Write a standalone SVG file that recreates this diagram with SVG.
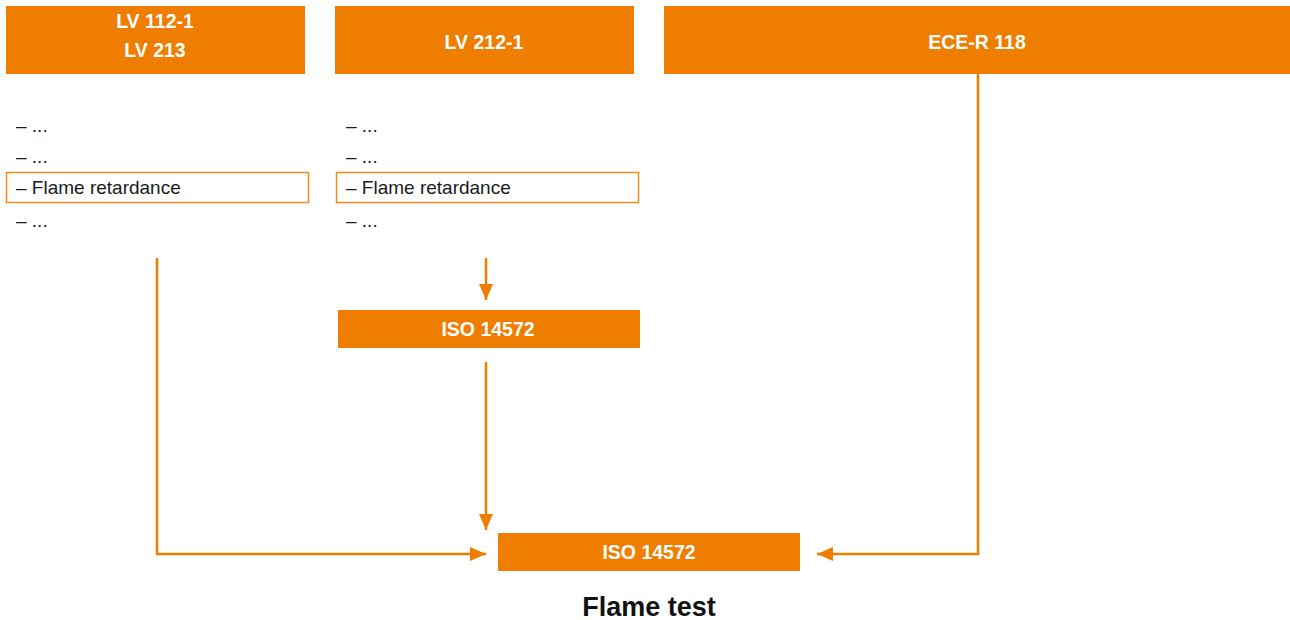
<svg xmlns="http://www.w3.org/2000/svg" width="1290" height="620" viewBox="0 0 1290 620">
<style>
.box{fill:#EF7D00}
.hd{font-family:"Liberation Sans",Arial,sans-serif;font-weight:bold;font-size:19.5px;fill:#fff;text-anchor:middle}
.li{font-family:"Liberation Sans",Arial,sans-serif;font-size:19px;fill:#1a1a1a}
.hl{fill:#fff;stroke:#F08A1E;stroke-width:1.5}
.ln{fill:none;stroke:#EF7D00;stroke-width:2.5}
.ttl{font-family:"Liberation Sans",Arial,sans-serif;font-weight:bold;font-size:27px;fill:#111;text-anchor:middle}
</style>
<defs>
<marker id="arr" viewBox="0 0 16 14" refX="16" refY="7" markerWidth="16" markerHeight="14" markerUnits="userSpaceOnUse" orient="auto">
<path d="M0,0 L16,7 L0,14 z" fill="#EF7D00"/>
</marker>
</defs>
<g id="node-lv112">
<rect class="box" x="6" y="6" width="299" height="68"/>
<text class="hd" x="155" y="28">LV 112-1</text>
<text class="hd" x="155" y="57">LV 213</text>
</g>
<g id="node-lv212">
<rect class="box" x="335" y="6" width="299" height="68"/>
<text class="hd" x="484" y="49">LV 212-1</text>
</g>
<g id="node-ece">
<rect class="box" x="664" y="6" width="626" height="68"/>
<text class="hd" x="977" y="49">ECE-R 118</text>
</g>
<g id="list-1">
<text class="li" x="16" y="132">– ...</text>
<text class="li" x="16" y="163">– ...</text>
<rect class="hl" x="6.5" y="172.5" width="302" height="30"/>
<text class="li" x="16" y="194">– Flame retardance</text>
<text class="li" x="16" y="227">– ...</text>
</g>
<g id="list-2">
<text class="li" x="346" y="132">– ...</text>
<text class="li" x="346" y="163">– ...</text>
<rect class="hl" x="336.5" y="172.5" width="302" height="30"/>
<text class="li" x="346" y="194">– Flame retardance</text>
<text class="li" x="346" y="227">– ...</text>
</g>
<g id="node-iso-mid">
<rect class="box" x="338" y="310" width="302" height="38"/>
<text class="hd" x="488" y="336">ISO 14572</text>
</g>
<g id="node-iso-bottom">
<rect class="box" x="498" y="533" width="302" height="38"/>
<text class="hd" x="649" y="559">ISO 14572</text>
</g>
<g id="connectors">
<path class="ln" d="M486,258 V300" marker-end="url(#arr)"/>
<path class="ln" d="M486,362 V530" marker-end="url(#arr)"/>
<path class="ln" d="M157,258 V554 H486" marker-end="url(#arr)"/>
<path class="ln" d="M978,74 V554 H817" marker-end="url(#arr)"/>
</g>
<text class="ttl" x="649" y="616">Flame test</text>
</svg>
